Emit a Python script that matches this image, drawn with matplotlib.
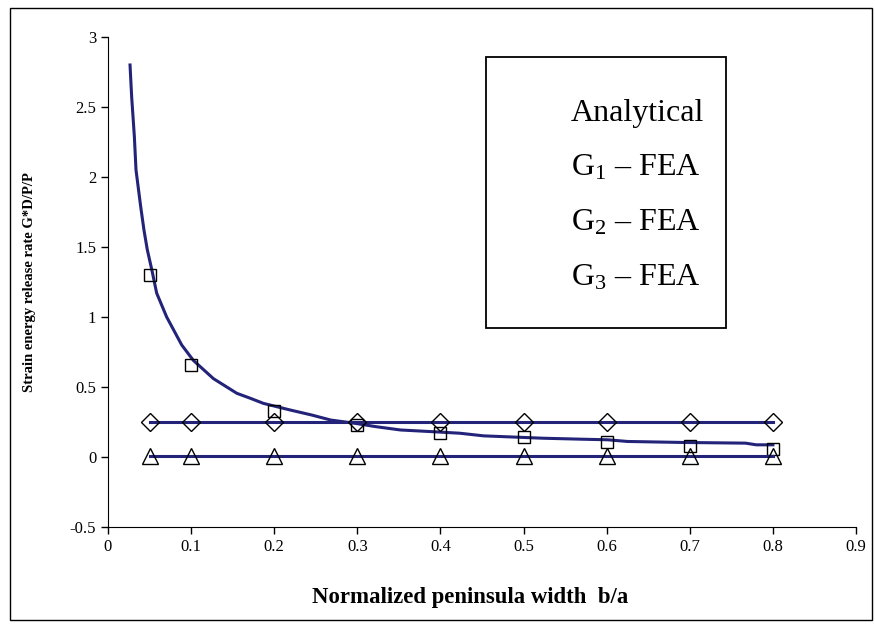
import numpy as np
import matplotlib
matplotlib.use("Agg")
from matplotlib import pyplot as plt
from matplotlib.patches import Rectangle

plt.rcParams['font.family'] = ['Liberation Serif', 'DejaVu Serif']
plt.rcParams['mathtext.fontset'] = 'custom'
plt.rcParams['mathtext.rm'] = 'Liberation Serif'

# analytical curve
b_an = [0.0265, 0.0285, 0.0317, 0.0337, 0.0393, 0.0433, 0.0473, 0.0526,
        0.0586, 0.0706, 0.0887, 0.1027, 0.1268, 0.155, 0.171, 0.187, 0.219,
        0.245, 0.268, 0.298, 0.322, 0.352, 0.393, 0.423, 0.452, 0.524, 0.571,
        0.601, 0.625, 0.69, 0.767, 0.78, 0.8]
g_an = [2.8, 2.57, 2.29, 2.05, 1.79, 1.62, 1.48, 1.34,
        1.17, 1.0, 0.80, 0.69, 0.56, 0.455, 0.42, 0.383, 0.336,
        0.30, 0.264, 0.24, 0.217, 0.193, 0.18, 0.17, 0.151, 0.134, 0.127,
        0.123, 0.111, 0.104, 0.099, 0.087, 0.087]

# FEA results
b_fea = [0.05, 0.1, 0.2, 0.3, 0.4, 0.5, 0.6, 0.7, 0.8]
g1_fea = [1.3, 0.66, 0.33, 0.23, 0.175, 0.14, 0.106, 0.08, 0.06]
g2_fea = [0.25, 0.25, 0.25, 0.25, 0.25, 0.25, 0.25, 0.25, 0.25]
g3_fea = [0.005, 0.005, 0.005, 0.005, 0.005, 0.005, 0.005, 0.005, 0.005]

legend_labels = ['Analytical', r'$\mathregular{G_1}$ – FEA',
                 r'$\mathregular{G_2}$ – FEA', r'$\mathregular{G_3}$ – FEA']

navy = '#23237a'

fig = plt.figure(figsize=(8.75, 6.28), dpi=100)
fig.patches.append(Rectangle((10 / 875, 8 / 628), 862 / 875, 612 / 628,
                             transform=fig.transFigure, fill=False,
                             edgecolor='black', linewidth=1.0))
ax = fig.add_axes([108 / 875, 101 / 628, 748 / 875, 490 / 628])

ax.plot(b_an, g_an, color=navy, lw=2.2)
ax.plot(b_fea, g1_fea, ls='none', marker='s', ms=9, mfc='none',
        mec='black', mew=1.0)
ax.plot(b_fea, g2_fea, color=navy, lw=2.2)
ax.plot(b_fea, g2_fea, ls='none', marker='D', ms=9, mfc='none',
        mec='black', mew=1.0)
ax.plot(b_fea, g3_fea, color=navy, lw=2.2)
ax.plot(b_fea, g3_fea, ls='none', marker='^', ms=12, mfc='none',
        mec='black', mew=1.0)

ax.set_xlim(0, 0.9)
ax.set_ylim(-0.5, 3)
ax.set_xticks(np.arange(0, 0.91, 0.1))
ax.set_xticklabels(['0', '0.1', '0.2', '0.3', '0.4', '0.5', '0.6', '0.7', '0.8', '0.9'])
ax.set_yticks(np.arange(-0.5, 3.01, 0.5))
ax.set_yticklabels(['-0.5', '0', '0.5', '1', '1.5', '2', '2.5', '3'])
ax.tick_params(labelsize=12, length=5, width=1, direction='out')
ax.spines['top'].set_visible(False)
ax.spines['right'].set_visible(False)

ax.set_xlabel('Normalized peninsula width  b/a', fontsize=16.4, fontweight='bold')
ax.xaxis.set_label_coords(0.484, -0.122)
ax.set_ylabel('Strain energy release rate G*D/P/P', fontsize=10.5,
              fontweight='bold', labelpad=24)

# legend box (the original shows only the texts, no symbols)
fig.patches.append(Rectangle((486 / 875, 1 - 328 / 628), 240 / 875, 271 / 628,
                             transform=fig.transFigure, fill=True,
                             facecolor='white', edgecolor='black',
                             linewidth=1.3, zorder=5))
for i, lab in enumerate(legend_labels):
    fig.text(571 / 875, 1 - (113 + 55 * i) / 628, lab, fontsize=23,
             va='center', ha='left', zorder=6)

fig.savefig('out.png', dpi=100)
